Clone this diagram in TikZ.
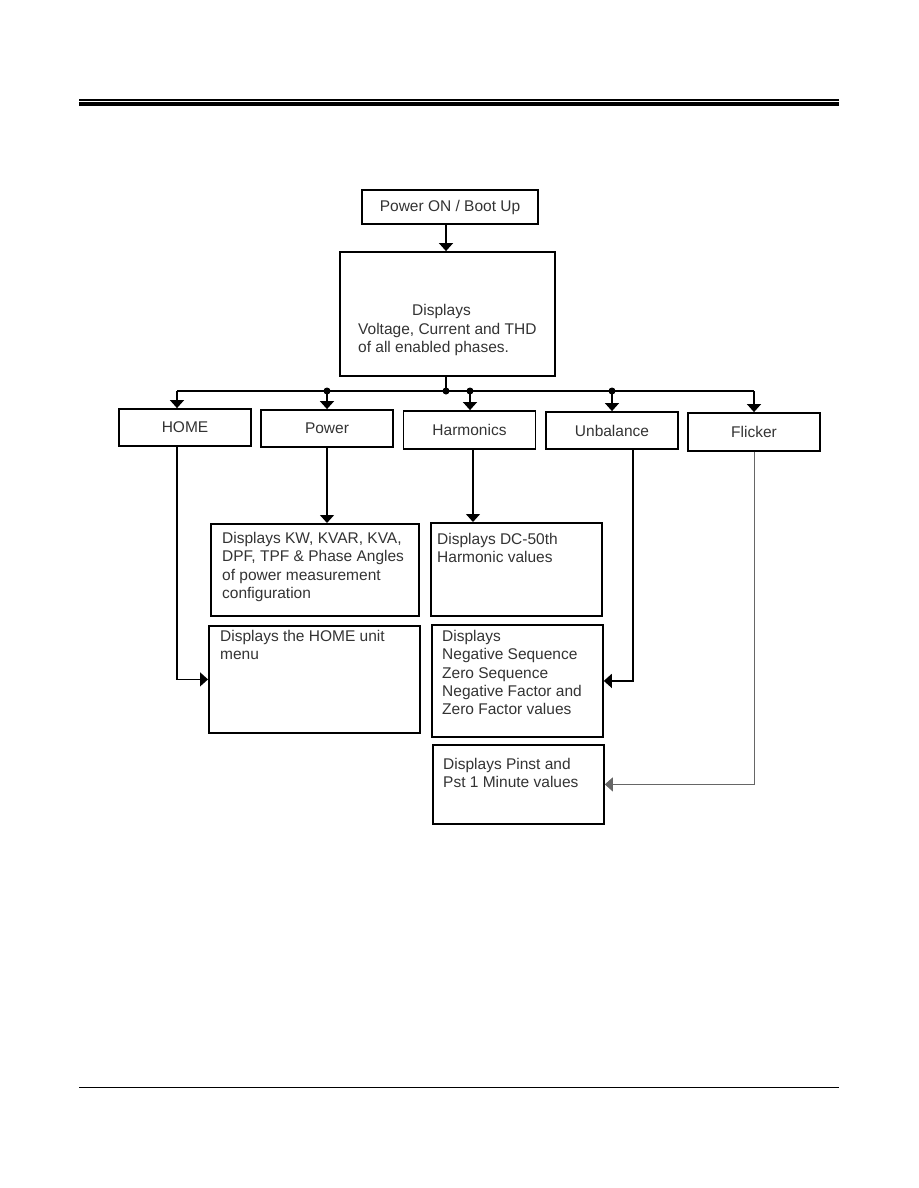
\documentclass[tikz,border=0pt]{standalone}
\usepackage{fontspec}
\setmainfont{Liberation Sans}
\usetikzlibrary{arrows.meta,calc}

\begin{document}
\begin{tikzpicture}[x=1pt,y=-1pt,font=\fontsize{15.5}{18.3}\selectfont,
  box/.style={draw,line width=1.8pt,inner sep=0pt,text=black!80},
  rowbox/.style={box,minimum width=132,minimum height=37},
  dbox/.style={box,anchor=north west},
  dtxt/.style={anchor=north west,inner sep=0pt,align=left,text=black!80},
  conn/.style={line width=1.3pt},
  thinconn/.style={line width=0.9pt,black!60},
  tip/.style={-{Triangle[width=14pt,length=8pt]}}]
\useasboundingbox(0,0)rectangle(918,1188);
% page rules
\draw[line width=1.2pt](79,100)--(839,100);\draw[line width=3.6pt](79,104)--(839,104);
\draw[line width=1.2pt](79,1087.5)--(839,1087.5);
% top of the chart
\node[box,minimum width=176,minimum height=34](boot)at(450,207){Power ON / Boot Up};
\node[box,minimum width=215,minimum height=124](disp)at(447.5,314){};
\node[dtxt,anchor=west](dispt)at(358,330){\hspace*{54pt}Displays\\Voltage, Current and THD\\of all enabled phases.};
% menu row
\node[rowbox](home)at(185,427.5){HOME};\node[rowbox](power)at(327,428.5){Power};\node[rowbox,minimum height=38](harm)at(469.5,430){Harmonics};\node[rowbox](unbal)at(612,430.5){Unbalance};\node[rowbox,minimum height=38](flick)at(754,432){Flicker};
% bus
\coordinate(bhome)at(177,391);\coordinate(bpow)at(327,391);\coordinate(bstem)at(446,391);\coordinate(bharm)at(470,391);\coordinate(bunb)at(612,391);\coordinate(bflk)at(754,391);
\draw[conn,tip](boot.south-|bstem)--(disp.north-|bstem);
\draw[conn](disp.south-|bstem)--(bstem);\draw[conn](bhome)--(bflk);
\foreach \b/\n in {bhome/home,bpow/power,bharm/harm,bunb/unbal,bflk/flick}\draw[conn,tip](\b)--(\b|-\n.north);
\foreach \b in {bpow,bstem,bharm,bunb}\fill(\b)circle[radius=3.5pt];
% result boxes
\node[dbox,minimum width=208,minimum height=92](powerd)at(210,523){};
\node[dtxt](powert)at([shift={(12,9)}]powerd.north west){Displays KW, KVAR, KVA,\\DPF, TPF \& Phase Angles\\of power measurement\\configuration};
\node[dbox,minimum width=211,minimum height=107](homed)at(208,625){};
\node[dtxt](homet)at([shift={(12,5)}]homed.north west){Displays the HOME unit\\menu};
\node[dbox,minimum width=171,minimum height=93](harmd)at(430,522){};
\node[dtxt](harmt)at([shift={(7,11)}]harmd.north west){Displays DC-50th\\Harmonic values};
\node[dbox,minimum width=171,minimum height=112](unbd)at(431,624){};
\node[dtxt](unbt)at([shift={(11,6)}]unbd.north west){Displays\\Negative Sequence\\Zero Sequence\\Negative Factor and\\Zero Factor values};
\node[dbox,minimum width=171,minimum height=79](pinstd)at(432,744){};
\node[dtxt](pinstt)at([shift={(11,14)}]pinstd.north west){Displays Pinst and\\Pst 1 Minute values};
% links down
\draw[conn,tip](bhome|-home.south)|-(homed.west);
\draw[conn,tip](power.south)--(power.south|-powerd.north);
\draw[conn,tip]([xshift=3.5pt]harm.south)--([xshift=3.5pt]harm.south|-harmd.north);
\draw[conn,tip]([xshift=21pt]unbal.south)|-(unbd.east);
\draw[thinconn,tip](flick.south)|-(pinstd.east);
\end{tikzpicture}
\end{document}
